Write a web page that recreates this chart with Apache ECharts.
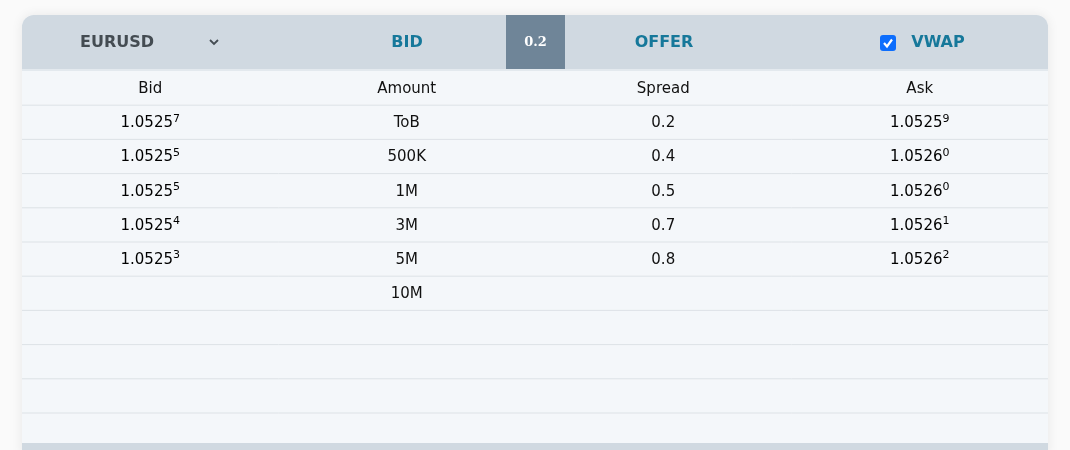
<!DOCTYPE html>
<html>
<head>
<meta charset="utf-8">
<script src="https://cdn.jsdelivr.net/npm/echarts@6/dist/echarts.min.js"></script>
<style>
  html, body { margin: 0; padding: 0; background: #fafafa; }
  #chart { width: 1070px; height: 450px; }
</style>
</head>
<body>
<div id="chart"></div>
<script>
const columns = ['Bid', 'Amount', 'Spread', 'Ask'];
const bidBase = ['1.0525', '1.0525', '1.0525', '1.0525', '1.0525'];
const bidPip = ['7', '5', '5', '4', '3'];
const amounts = ['ToB', '500K', '1M', '3M', '5M', '10M'];
const spreads = ['0.2', '0.4', '0.5', '0.7', '0.8'];
const askBase = ['1.0525', '1.0526', '1.0526', '1.0526', '1.0526'];
const askPip = ['9', '0', '0', '1', '2'];
const rowCount = 10;

const chart = echarts.init(document.getElementById('chart'));

const cardL = 22, cardR = 1048, cardT = 15, headH = 54;
const colW = (cardR - cardL) / 4;
const rowTop = 71, rowH = 34.2;
const colX = i => cardL + colW * i + colW / 2;
const rowY = i => rowTop + rowH * (i + 0.5);
const font = 'DejaVu Sans, Verdana, sans-serif';

const priceRich = {
  b: { fontSize: 15, fontFamily: font, color: '#111' },
  s: { fontSize: 11, fontFamily: font, color: '#111', padding: [0, 0, 9, 0] },
  r: { fontSize: 11, fontFamily: font, color: '#8b1a1a', padding: [0, 0, 9, 0] },
  g: { fontSize: 11, fontFamily: font, color: '#1f4f5f', padding: [0, 0, 9, 0] }
};

const g = [];
// card
g.push({ type: 'rect', shape: { x: cardL, y: cardT, width: cardR - cardL, height: 440, r: [12, 12, 0, 0] },
  style: { fill: '#f4f7fa', shadowBlur: 12, shadowColor: 'rgba(0,0,0,0.08)' } });
g.push({ type: 'rect', shape: { x: cardL, y: cardT, width: cardR - cardL, height: headH, r: [12, 12, 0, 0] },
  style: { fill: '#d0d9e1' } });
g.push({ type: 'rect', shape: { x: cardL, y: cardT + headH, width: cardR - cardL, height: 2 }, style: { fill: '#e3e9ee' } });
g.push({ type: 'rect', shape: { x: 506, y: cardT, width: 59, height: headH }, style: { fill: '#6f8598' } });
g.push({ type: 'rect', shape: { x: cardL, y: 443, width: cardR - cardL, height: 10 }, style: { fill: '#d0d9e1' } });

const head = [
  { t: 'EURUSD', x: 117, c: '#444c52' },
  { t: 'BID', x: 407, c: '#16789a' },
  { t: 'OFFER', x: 664, c: '#16789a' },
  { t: 'VWAP', x: 938, c: '#16789a' }
];
head.forEach(h => g.push({ type: 'text', x: h.x, y: 43,
  style: { text: h.t, fill: h.c, font: 'bold 16px ' + font, align: 'center', verticalAlign: 'middle' } }));
g.push({ type: 'text', x: 535.5, y: 43,
  style: { text: '0.2', fill: '#fff', font: 'bold 13px DejaVu Serif, serif', align: 'center', verticalAlign: 'middle' } });
g.push({ type: 'polyline', shape: { points: [[210, 40], [214, 44], [218, 40]] },
  style: { stroke: '#444c52', lineWidth: 1.8, fill: null } });
g.push({ type: 'rect', shape: { x: 880, y: 35, width: 16, height: 16, r: 3 }, style: { fill: '#0d6efd' } });
g.push({ type: 'polyline', shape: { points: [[884, 43], [887, 46.5], [892, 39.5]] },
  style: { stroke: '#fff', lineWidth: 2.2, fill: null } });

// row lines
for (let i = 1; i <= rowCount; i++) {
  g.push({ type: 'line', shape: { x1: cardL, y1: rowTop + rowH * i, x2: cardR, y2: rowTop + rowH * i },
    style: { stroke: '#dde2e6', lineWidth: 1 } });
}
// column titles
columns.forEach((c, i) => g.push({ type: 'text', x: colX(i), y: rowY(0) + 1,
  style: { text: c, fill: '#111', font: '15px ' + font, align: 'center', verticalAlign: 'middle' } }));

const plain = (txt, ci, ri) => g.push({ type: 'text', x: colX(ci), y: rowY(ri + 1) + 1,
  style: { text: txt, fill: '#111', font: '15px ' + font, align: 'center', verticalAlign: 'middle' } });
const price = (base, pip, ci, ri, key) => g.push({ type: 'text', x: colX(ci), y: rowY(ri + 1) + 1,
  style: { text: '{b|' + base + '}{' + key + '|' + pip + '}', rich: priceRich, align: 'center', verticalAlign: 'middle' } });

bidBase.forEach((b, i) => price(b, bidPip[i], 0, i, i === 3 ? 'g' : 's'));
amounts.forEach((a, i) => plain(a, 1, i));
spreads.forEach((s, i) => plain(s, 2, i));
askBase.forEach((a, i) => price(a, askPip[i], 3, i, i === 3 ? 'r' : 's'));

chart.setOption({ animation: false, graphic: g });
</script>
</body>
</html>
